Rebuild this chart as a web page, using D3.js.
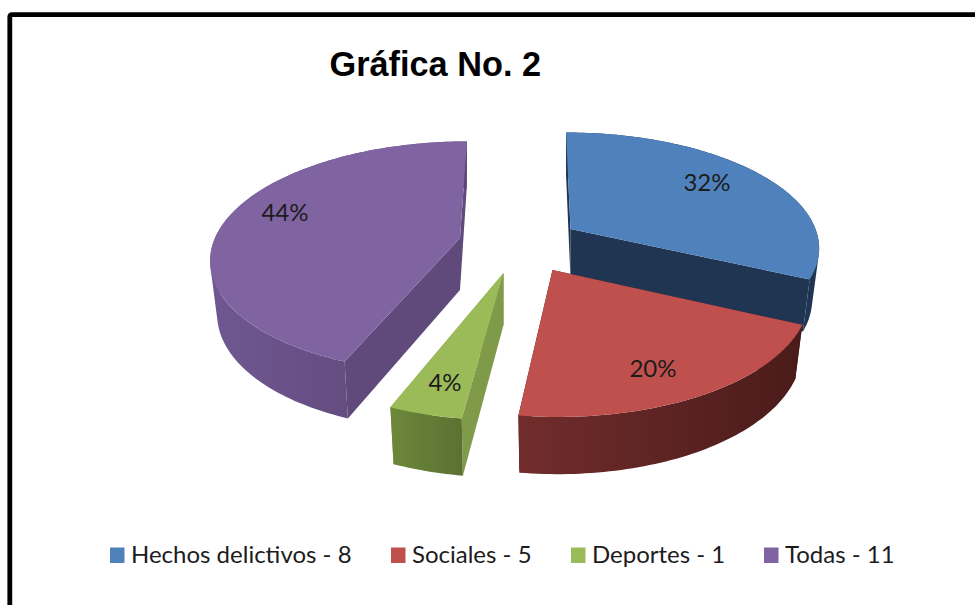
<!DOCTYPE html>
<html>
<head>
<meta charset="utf-8">
<script src="https://cdn.jsdelivr.net/npm/d3@7"></script>
<style>
html,body{margin:0;padding:0;background:#fff;overflow:hidden}
svg{display:block}
</style>
</head>
<body>
<svg id="chart" width="975" height="605"></svg>
<script>
// ---- data ----
const categories = ["Hechos delictivos", "Sociales", "Deportes", "Todas"];
const counts = [8, 5, 1, 11];
const chartTitle = "Gráfica No. 2";
const topColors = ["#4f81bd", "#c0504d", "#9bbb59", "#8064a2"];

// ---- layout of the exploded 3-D pie (one entry per slice) ----
const apexX = [570.5, 552.5, 503.5, 460];
const apexY = [229, 270, 273, 238];
const radiusX = [245, 251, 243, 245];
const radiusY = [111, 118, 118, 112.5];
const perspective = [0.15, 0.197, 0.197, 0.165];
const wallHeight = [50, 52, 52, 52];
const wallLeft = ["#1f3552", "#712d2c", "#6d883a", "#6f5791"];
const wallRight = ["#1f3552", "#4a1b1a", "#5a7131", "#5c4573"];
const radialWall = ["#1f3552", "#4a1b1a", "#7f9a48", "#604a7b"];
const labelDX = [136.5, 100.5, -58.5, -175];
const labelDY = [-48, 97, 108, -27];
const legendSwatchX = [110, 391, 571, 764];
const paintOrder = [3, 0, 2, 1];
const vanishX = 525, skew = 0.75, baseShrink = 0.972;

const svg = d3.select("#chart");
const defs = svg.append("defs");
const pct = d3.format(".0%");
const total = d3.sum(counts);
const slices = d3.pie().sort(null).startAngle(0).endAngle(2 * Math.PI)(counts);

// Projects polar pie coordinates (angle clockwise from 12 o'clock) on screen.
function project(i, angle, r, base) {
  const X = Math.sin(angle) * r, Z = -Math.cos(angle) * r;
  const s = 1 / (1 - perspective[i] * Z);
  let dx = radiusX[i] * X * s + skew * (apexX[i] - vanishX) * (s - 1);
  let dy = radiusY[i] * Z * s;
  if (base) {
    dx *= baseShrink;
    dy += wallHeight[i] * (1 + 0.1 * Z);
  }
  return [apexX[i] + dx, apexY[i] + dy];
}
const line = d3.line();
const arcAngles = (a0, a1) => {
  const n = Math.max(8, Math.ceil((a1 - a0) / 0.02));
  return d3.range(n + 1).map(k => a0 + (a1 - a0) * k / n);
};

const pieG = svg.append("g");
paintOrder.forEach(i => {
  const d = slices[i];
  const angles = arcAngles(d.startAngle, d.endAngle);
  const g = pieG.append("g");

  const topArc = angles.map(a => project(i, a, 1, false));
  const baseArc = angles.map(a => project(i, a, 1, true));
  const apexTop = project(i, 0, 0, false);
  const apexBase = project(i, 0, 0, true);

  // radial walls
  [d.endAngle, d.startAngle].forEach(a => {
    g.append("path")
      .attr("d", line([apexTop, project(i, a, 1, false), project(i, a, 1, true), apexBase]) + "Z")
      .attr("fill", radialWall[i]);
  });

  // outer curved wall with a horizontal shade: one path of same-wound facets
  const xs = topArc.concat(baseArc).map(p => p[0]);
  const gradId = "wall" + i;
  const grad = defs.append("linearGradient").attr("id", gradId)
    .attr("gradientUnits", "userSpaceOnUse")
    .attr("x1", d3.min(xs)).attr("x2", d3.max(xs)).attr("y1", 0).attr("y2", 0);
  grad.append("stop").attr("offset", 0).attr("stop-color", wallLeft[i]);
  grad.append("stop").attr("offset", 1).attr("stop-color", wallRight[i]);
  const facets = d3.range(angles.length - 1).map(k => {
    const q = [topArc[k], topArc[k + 1], baseArc[k + 1], baseArc[k]];
    if (d3.polygonArea(q) < 0) q.reverse();
    return line(q) + "Z";
  });
  g.append("path")
    .attr("d", facets.join(""))
    .attr("fill", `url(#${gradId})`);

  // top face
  g.append("path")
    .attr("d", line([apexTop].concat(topArc)) + "Z")
    .attr("fill", topColors[i]);
});

// percentage labels
svg.append("g").selectAll("text").data(slices).join("text")
  .attr("x", (d, i) => apexX[i] + labelDX[i])
  .attr("y", (d, i) => apexY[i] + labelDY[i])
  .attr("text-anchor", "middle")
  .attr("dominant-baseline", "central")
  .attr("font-family", "Lato, 'Noto Sans', sans-serif")
  .attr("font-size", 24)
  .attr("fill", "#1c1c1c")
  .text(d => pct(d.value / total));

// title
svg.append("text")
  .attr("x", 329.5).attr("y", 76)
  .attr("font-family", "'Liberation Sans', Arial, sans-serif")
  .attr("font-weight", "bold")
  .attr("font-size", 34.3)
  .attr("fill", "#000")
  .text(chartTitle);

// legend
const legend = svg.append("g").selectAll("g").data(categories).join("g")
  .attr("transform", (d, i) => `translate(${legendSwatchX[i]},0)`);
legend.append("rect")
  .attr("y", 547.5).attr("width", 14.5).attr("height", 15.5)
  .attr("fill", (d, i) => topColors[i]);
legend.append("text")
  .attr("x", 21).attr("y", 563)
  .attr("font-family", "Lato, 'Noto Sans', sans-serif")
  .attr("font-size", 24)
  .attr("fill", "#1c1c1c")
  .text((d, i) => `${d} - ${counts[i]}`);

// frame (runs off the right and bottom of the picture)
svg.append("rect")
  .attr("x", 9.8).attr("y", 14.7).attr("width", 1100).attr("height", 1000).attr("rx", 2)
  .attr("fill", "none").attr("stroke", "#000").attr("stroke-width", 4.8);
</script>
</body>
</html>
